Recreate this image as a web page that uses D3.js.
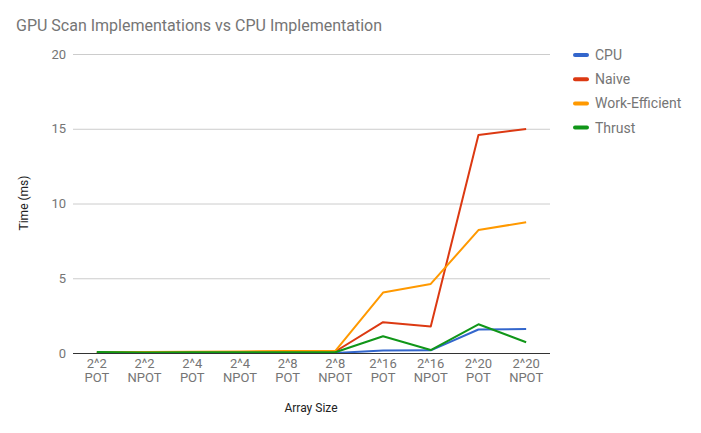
<!DOCTYPE html>
<html><head><meta charset="utf-8">
<script src="https://cdn.jsdelivr.net/npm/d3@7"></script>
<style>body{margin:0;background:#fff}svg{display:block;font-family:Roboto,Arial,sans-serif}</style>
</head><body><svg id="c" width="701" height="433"></svg>
<script>
const categories = ["2^2 POT","2^2 NPOT","2^4 POT","2^4 NPOT","2^8 POT","2^8 NPOT","2^16 POT","2^16 NPOT","2^20 POT","2^20 NPOT"];
const cpu = [0.001,0.001,0.002,0.002,0.005,0.006,0.16,0.18,1.57,1.61];
const naive = [0.03,0.03,0.04,0.05,0.08,0.10,2.06,1.77,14.58,14.98];
const workEfficient = [0.05,0.06,0.08,0.10,0.13,0.14,4.04,4.62,8.22,8.75];
const thrust = [0.07,0.04,0.05,0.05,0.05,0.05,1.12,0.20,1.92,0.72];
const yTicks = [0,5,10,15,20];
const seriesNames = ["CPU","Naive","Work-Efficient","Thrust"];
const colors = ["#3366cc","#dc3912","#ff9900","#109618"];
const series = [cpu,naive,workEfficient,thrust];

const svg = d3.select("#c");
const L=73,R=550,T=54,B=353;
const x = d3.scaleBand().domain(categories).range([L,R]);
const y = d3.scaleLinear().domain([0,20]).range([B,T]);
const gray="#757575";

svg.append("text").attr("x",16).attr("y",31).attr("fill",gray).attr("font-size",16).text("GPU Scan Implementations vs CPU Implementation");

const g = svg.append("g");
g.selectAll("line.grid").data(yTicks).join("line")
 .attr("x1",L).attr("x2",R).attr("y1",d=>y(d)+0.5).attr("y2",d=>y(d)+0.5)
 .attr("stroke","#cccccc").attr("stroke-width",1);
g.selectAll("text.yt").data(yTicks).join("text")
 .attr("x",L-7).attr("y",d=>y(d)+4.5).attr("text-anchor","end").attr("fill",gray).attr("font-size",13).text(d=>d);

const xl = g.selectAll("text.xt").data(categories).join("text")
 .attr("text-anchor","middle").attr("fill",gray).attr("font-size",13);
xl.each(function(d){
  const parts=d.split(" ");
  const t=d3.select(this);
  parts.forEach((p,i)=>t.append("tspan").attr("x",x(d)+x.bandwidth()/2).attr("y",368+i*13.5).text(p));
});

svg.append("text").attr("x",311).attr("y",412).attr("text-anchor","middle").attr("fill","#222").attr("font-size",12).text("Array Size");
svg.append("text").attr("transform","translate(28,203) rotate(-90)").attr("text-anchor","middle").attr("fill","#222").attr("font-size",12).text("Time (ms)");

const line = d3.line().x((d,i)=>x(categories[i])+x.bandwidth()/2).y(d=>y(d));
series.forEach((s,k)=>{
  svg.append("path").attr("d",line(s)).attr("fill","none").attr("stroke",colors[k]).attr("stroke-width",2).attr("stroke-linejoin","round");
});
svg.append("line").attr("x1",L).attr("x2",R).attr("y1",B+0.5).attr("y2",B+0.5).attr("stroke","#333").attr("stroke-width",1);

const lg = svg.append("g");
seriesNames.forEach((n,i)=>{
  const yy=55+i*24.2;
  lg.append("line").attr("x1",575).attr("x2",587).attr("y1",yy).attr("y2",yy).attr("stroke",colors[i]).attr("stroke-width",4).attr("stroke-linecap","round");
  lg.append("text").attr("x",595).attr("y",yy+5).attr("fill",gray).attr("font-size",14).text(n);
});
</script></body></html>
